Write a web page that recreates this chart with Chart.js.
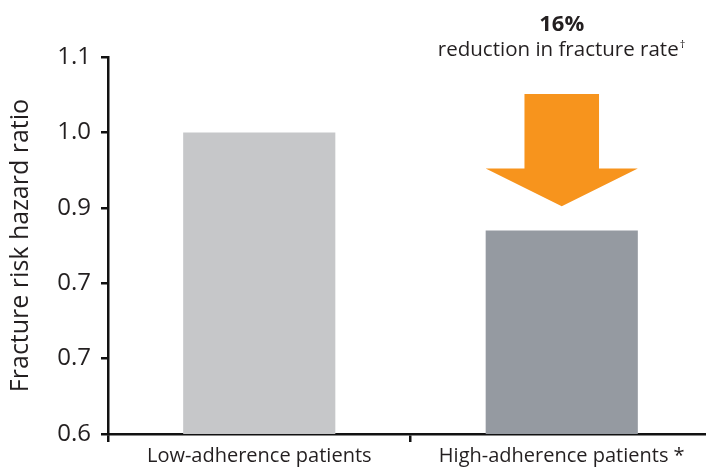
<!DOCTYPE html>
<html>
<head>
<meta charset="utf-8">
<script src="https://cdn.jsdelivr.net/npm/chart.js@4/dist/chart.umd.min.js"></script>
<style>
  html, body { margin: 0; padding: 0; background: #fff; overflow: hidden; }
  #wrap { width: 714px; height: 467px; position: relative; }
</style>
</head>
<body>
<div id="wrap"><canvas id="c"></canvas></div>
<script>
// Fracture risk by adherence group
const categories = ['Low-adherence patients', 'High-adherence patients *'];
const hazardRatios = [1.0, 0.87];
const barColors = ['#C6C7C9', '#959AA1'];
// Printed axis labels (bottom to top)
const yTickLabels = ['0.6', '0.7', '0.7', '0.9', '1.0', '1.1'];
const reductionValue = '16%';
const reductionText = 'reduction in fracture rate';

const FONT = '"Open Sans", "DejaVu Sans", sans-serif';
const INK = '#231F20';

// Orange arrow and headline above the second bar
const reductionCallout = {
  id: 'reductionCallout',
  afterDatasetsDraw(chart) {
    const { ctx, scales: { y } } = chart;
    const bar = chart.getDatasetMeta(0).data[1];
    const cx = bar.x;
    const half = bar.width / 2;
    const shaftHalf = half * 0.49;
    const top = y.getPixelForValue(1.051);
    const neck = y.getPixelForValue(0.952);
    const tip = y.getPixelForValue(0.902);

    ctx.save();
    ctx.fillStyle = '#F7941D';
    ctx.beginPath();
    ctx.moveTo(cx - shaftHalf, top);
    ctx.lineTo(cx + shaftHalf, top);
    ctx.lineTo(cx + shaftHalf, neck);
    ctx.lineTo(cx + half, neck);
    ctx.lineTo(cx, tip);
    ctx.lineTo(cx - half, neck);
    ctx.lineTo(cx - shaftHalf, neck);
    ctx.closePath();
    ctx.fill();

    ctx.fillStyle = INK;
    ctx.textAlign = 'center';
    ctx.textBaseline = 'alphabetic';
    ctx.font = 'bold 22px ' + FONT;
    ctx.fillText(reductionValue, cx, 31);

    ctx.font = '20.5px ' + FONT;
    const w = ctx.measureText(reductionText).width;
    const startX = cx - (w + 7) / 2;
    ctx.textAlign = 'left';
    ctx.fillText(reductionText, startX, 56);
    ctx.font = '11px ' + FONT;
    ctx.fillText('\u2020', startX + w + 1, 48);
    ctx.restore();
  }
};

new Chart(document.getElementById('c'), {
  type: 'bar',
  data: {
    labels: categories,
    datasets: [{
      data: hazardRatios,
      backgroundColor: barColors,
      borderWidth: 0,
      barPercentage: 0.503,
      categoryPercentage: 1.0
    }]
  },
  options: {
    responsive: true,
    maintainAspectRatio: false,
    animation: false,
    layout: { padding: { top: 57, right: 1, left: 0, bottom: 0 } },
    plugins: { legend: { display: false }, tooltip: { enabled: false } },
    scales: {
      x: {
        grid: { drawOnChartArea: false, drawTicks: true, tickLength: 8, color: '#111', lineWidth: 2.5, offset: true },
        border: { color: '#111', width: 2.5 },
        ticks: { color: INK, font: { family: FONT, size: 20 }, padding: 2, maxRotation: 0 },
        afterFit(scale) { scale.height = 33; }
      },
      y: {
        min: 0.6,
        max: 1.1,
        grid: { drawOnChartArea: false, drawTicks: true, tickLength: 7, color: '#111', lineWidth: 2.5 },
        border: { color: '#111', width: 2.5 },
        ticks: {
          stepSize: 0.1,
          color: INK,
          font: { family: FONT, size: 24 },
          padding: 10,
          callback(value) {
            const i = Math.round((value - 0.6) * 10);
            return yTickLabels[i];
          }
        },
        title: {
          display: true,
          text: 'Fracture risk hazard ratio',
          color: INK,
          font: { family: FONT, size: 25 },
          padding: { top: 6, bottom: 0 }
        },
        afterFit(scale) { scale.width = 108; }
      }
    }
  },
  plugins: [reductionCallout]
});
</script>
</body>
</html>
